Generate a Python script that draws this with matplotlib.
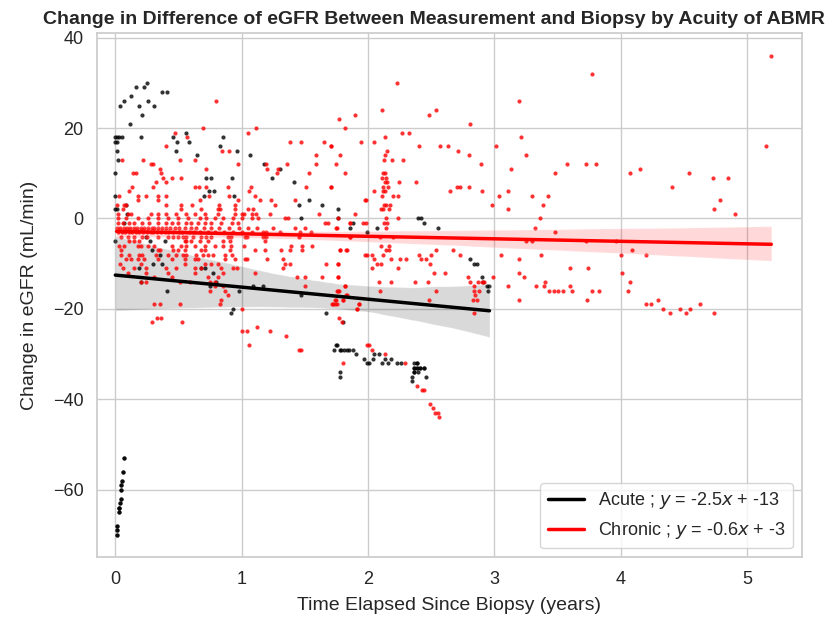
import numpy as np
import matplotlib
matplotlib.use("Agg")
import matplotlib.pyplot as plt
import seaborn as sns
from matplotlib.lines import Line2D

# acute ABMR: (years since biopsy, change in eGFR)
acute_pts = [
    (0.066, -53), (0.058, -56), (0.053, -58), (0.048, -59), (0.045, -60), (0.042, -62),
    (0.04, -63), (0.032, -64), (0.026, -65), (0.01, -68), (0.01, -69), (0.01, -70),
    (0.25, 30), (0.225, 29), (0.16, 29), (0.125, 27), (0.066, 26), (0.04, 25), (0.19, 25),
    (0.26, 26), (0.31, 25), (0.21, 23), (0.37, 28), (0.405, 28), (0.12, 21),
    (0.0, 18), (0.013, 18), (0.03, 18), (0.05, 18), (0.2, 18), (0.0, 17), (0.013, 17),
    (0.485, 17), (0.58, 17), (0.46, 18), (0.56, 19), (0.01, 15), (0.48, 15), (0.024, 13),
    (0.65, 14), (0.0, 10), (0.0, 5), (0.085, 3), (0.0, 2), (0.01, 2), (0.095, 1), (0.07, -1),
    (0.83, 16), (0.85, 18), (0.96, 15), (0.92, 9), (0.94, 5), (0.72, 9), (0.76, 9),
    (0.745, 6), (0.78, 6), (0.705, 5), (1.065, 14), (1.18, 12), (1.24, 9), (1.30, 11),
    (1.41, 8), (1.45, 3), (1.53, 4), (1.635, 3), (1.47, 0), (1.76, 2), (1.76, 0),
    (0.0, -5), (0.24, -4), (0.275, -5), (0.395, -5), (0.29, -7), (0.35, -8), (0.3, -10),
    (0.37, -10), (0.19, -11), (0.2, -14), (0.41, -16), (0.68, -11), (0.71, -11), (0.77, -12),
    (0.8, -14), (0.75, -15), (0.98, -16), (1.09, -15), (1.17, -15), (0.93, -20), (0.915, -21),
    (1.47, -17), (1.67, -21), (1.75, -28), (1.78, -29), (1.81, -29),
    (1.86, -2), (1.88, -1), (2.07, -2), (1.99, -3), (2.395, 0), (2.415, 0), (2.44, -1),
    (2.55, -2), (2.805, -9), (2.835, -10), (2.86, -10), (2.9, -13), (2.91, -14), (2.94, -15),
    (2.96, -15), (2.945, -16), (1.8, -23), (1.745, -28), (1.73, -29), (1.785, -29),
    (1.83, -29), (1.845, -29), (1.88, -29), (1.905, -30), (1.965, -31), (1.99, -32),
    (2.01, -32), (2.04, -31), (2.05, -30), (2.09, -30), (2.13, -31), (2.11, -32), (2.16, -32),
    (2.185, -31), (2.225, -32), (2.26, -32), (2.36, -32), (2.39, -32), (2.36, -33),
    (2.39, -33), (2.41, -33), (2.44, -33), (2.36, -34), (2.395, -34), (2.455, -35),
    (2.35, -35), (2.345, -36), (1.775, -34), (1.775, -35),
]
# repeated measurements that sit on top of dots already listed
acute_stacked = [
    (0.066, -53), (0.058, -56), (0.053, -58), (0.048, -59), (0.045, -60), (0.042, -62),
    (0.04, -63), (0.032, -64), (0.026, -65), (0.01, -68), (0.01, -69), (0.01, -70),
    (0.032, -64), (2.36, -33), (2.39, -32), (2.41, -33), (2.44, -33), (2.36, -34),
    (2.39, -33),
]

# chronic ABMR
chronic_pts = [
    (0.8, 26), (0.69, 20), (0.475, 19), (0.57, 18), (0.4, 16), (0.845, 15), (0.9, 15),
    (0.05, 13), (0.22, 13), (0.51, 13), (0.63, 13), (0.285, 12), (0.3, 12), (0.97, 12),
    (0.35, 11), (0.72, 11), (0.14, 10), (0.165, 10), (0.36, 10), (0.38, 9), (0.45, 9),
    (0.52, 9), (0.32, 8), (0.4, 8), (0.3, 7), (0.13, 7), (0.63, 7), (0.66, 7), (0.72, 7),
    (0.895, 7), (0.11, 6), (0.03, 5), (0.18, 5), (0.245, 5), (0.335, 5), (0.4, 5), (0.74, 5),
    (0.9, 5), (0.18, 4), (0.34, 4), (0.67, 4), (0.97, 4),
    (0.013, 3), (0.066, 3), (0.085, 3), (0.40, 3), (0.52, 3), (0.61, 3), (0.82, 3), (0.95, 3),
    (0.058, 2), (0.68, 2), (0.83, 2), (0.95, 2), (0.52, 2), (0.81, 2),
    (0.024, 1), (0.10, 1), (0.125, 1), (0.28, 1), (0.335, 1), (0.40, 1), (0.48, 1), (0.56, 1),
    (0.63, 1), (0.71, 1), (0.81, 1), (0.945, 1), (1.0, 1),
    (0.02, 0), (0.085, 0), (0.18, 0), (0.26, 0), (0.335, 0), (0.415, 0), (0.495, 0),
    (0.575, 0), (0.67, 0), (0.72, 0), (0.785, 0), (0.855, 0), (0.93, 0), (1.0, 0),
    (0.02, -1), (0.058, -1), (0.11, -1), (0.15, -1), (0.215, -1), (0.27, -1), (0.335, -1),
    (0.40, -1), (0.445, -1), (0.495, -1), (0.56, -1), (0.60, -1), (0.655, -1), (0.71, -1),
    (0.76, -1), (0.84, -1), (0.92, -1), (0.97, -1),
    (0.01, -2), (0.04, -2), (0.07, -2), (0.09, -2), (0.12, -2), (0.15, -2), (0.17, -2),
    (0.2, -2), (0.23, -2), (0.26, -2), (0.29, -2), (0.31, -2), (0.34, -2), (0.37, -2),
    (0.4, -2), (0.43, -2), (0.47, -2), (0.5, -2), (0.55, -2), (0.6, -2), (0.64, -2),
    (0.7, -2), (0.76, -2), (0.82, -2), (0.9, -2), (0.98, -2), (1.05, -2), (1.12, -2), (1.25, -2),
    (0.02, -3), (0.05, -3), (0.08, -3), (0.11, -3), (0.13, -3), (0.16, -3), (0.19, -3),
    (0.22, -3), (0.25, -3), (0.28, -3), (0.3, -3), (0.33, -3), (0.36, -3), (0.39, -3),
    (0.42, -3), (0.46, -3), (0.5, -3), (0.53, -3), (0.58, -3), (0.62, -3), (0.67, -3),
    (0.73, -3), (0.79, -3), (0.86, -3), (0.93, -3), (1.0, -3), (1.08, -3), (1.3, -3), (1.55, -3),
    (0.045, -4), (0.10, -4), (0.145, -4), (0.215, -4), (0.25, -4), (0.335, -4), (0.415, -4),
    (0.455, -4), (0.495, -4), (0.535, -4), (0.56, -4), (0.615, -4), (0.68, -4), (0.72, -4),
    (0.76, -4), (0.89, -4), (0.915, -4),
    (0.11, -5), (0.15, -5), (0.19, -5), (0.55, -5), (0.56, -5), (0.60, -5), (0.67, -5),
    (0.735, -5), (0.855, -5), (0.905, -5),
    (0.03, -6), (0.07, -6), (0.18, -6), (0.205, -6), (0.255, -6), (0.31, -6), (0.445, -6),
    (0.52, -6), (0.56, -6), (0.63, -6), (0.71, -6), (0.785, -6), (0.855, -6), (0.915, -6),
    (0.045, -7), (0.335, -7), (0.35, -7), (0.455, -7), (0.495, -7), (0.55, -7), (0.68, -7),
    (0.71, -7), (0.905, -7),
    (0.045, -8), (0.11, -8), (0.19, -8), (0.215, -8), (0.325, -8), (0.415, -8), (0.48, -8),
    (0.535, -8), (0.56, -8), (0.64, -8), (0.695, -8), (0.735, -8), (0.775, -8), (0.865, -8),
    (0.92, -8),
    (0.085, -9), (0.125, -9), (0.18, -9), (0.23, -9), (0.335, -9), (0.445, -9), (0.55, -9),
    (0.63, -9), (0.655, -9), (0.865, -9), (0.945, -9),
    (0.04, -10), (0.205, -10), (0.55, -10), (0.71, -10), (0.76, -10), (0.81, -10),
    (0.058, -11), (0.15, -11), (0.245, -11), (0.40, -11), (0.48, -11), (0.63, -11),
    (0.68, -11), (0.84, -11), (0.93, -11), (0.96, -11),
    (0.10, -12), (0.245, -12), (0.415, -12), (0.63, -12), (0.855, -12),
    (0.31, -13), (0.445, -13), (0.735, -13), (0.815, -13),
    (0.205, -14), (0.245, -14), (0.51, -14), (0.59, -14), (0.75, -14), (0.785, -14),
    (0.785, -15), (0.855, -15), (0.75, -16), (0.865, -16), (0.89, -17),
    (0.305, -19), (0.35, -19), (0.51, -19), (0.33, -22), (0.36, -22), (0.29, -23), (0.53, -23),
    (0.83, -19), (0.84, -18), (1.0, -20), (1.0, -25),
    (1.04, -25), (1.12, -24), (1.22, -25), (1.35, -26), (1.06, -28), (1.45, -29), (1.47, -29),
    # 1 - 2 years
    (1.05, 19), (1.11, 20), (1.77, 22), (1.82, 20), (1.38, 17), (1.47, 17), (1.65, 17),
    (1.71, 16), (1.59, 14), (1.78, 14), (1.585, 12), (1.745, 12), (1.19, 12), (1.2, 11),
    (1.28, 10), (1.36, 12), (1.29, 11), (1.53, 10), (1.82, 10), (1.07, 7), (1.06, 6),
    (1.105, 5), (1.145, 4), (1.23, 4), (1.26, 3), (1.42, 4), (1.51, 7), (1.71, 7), (1.98, 4),
    (1.015, 1), (1.05, 2), (1.09, 2), (1.085, 1), (1.115, 1), (1.225, 1), (1.34, 0),
    (1.37, 0), (1.61, 1), (1.76, 0), (1.085, 0), (1.125, 0), (1.9, 1),
    (1.66, -1), (1.68, -1), (1.86, -1), (1.98, -1), (1.42, -2), (1.5, -2), (1.75, -2),
    (1.46, -3), (1.17, -3), (1.19, -3), (1.86, -4),
    (1.025, -4), (1.045, -4), (1.17, -4), (1.19, -4), (1.455, -4), (1.185, -5),
    (1.02, -6), (1.39, -6), (1.475, -6), (1.555, -6), (1.105, -7), (1.185, -7), (1.31, -7),
    (1.38, -7), (1.475, -7), (1.775, -7), (1.83, -7), (1.99, -8), (1.025, -9), (1.045, -9),
    (1.2, -9), (1.325, -9), (1.34, -10), (1.385, -10), (1.67, -10), (1.76, -10), (1.325, -11),
    (1.105, -12), (1.435, -13), (1.50, -13), (1.635, -13), (1.76, -13), (1.5, -15),
    (1.815, -15), (1.755, -16), (1.77, -16), (1.83, -17), (1.735, -18), (1.80, -18),
    (1.715, -19), (1.75, -19), (1.93, -19), (1.915, -20), (1.72, -19), (1.74, -19),
    (1.745, -18), (1.8, -18), (1.825, -17), (1.82, -15), (1.765, -16), (1.77, -22),
    (1.79, -23), (1.8, -32),
    # 2 - 3 years
    (2.225, 30), (3.19, 26), (2.11, 24), (1.9, 23), (2.48, 23), (2.535, 24), (2.805, 21),
    (2.265, 19), (2.325, 19), (2.13, 18), (3.21, 18), (1.94, 17), (2.05, 17), (1.705, 16),
    (2.4, 16), (2.57, 16), (2.63, 16), (3.01, 16), (2.15, 15), (2.71, 15), (2.13, 14),
    (2.795, 14), (3.25, 14), (2.895, 12), (2.125, 13), (2.19, 13), (2.28, 13), (3.13, 11),
    (3.575, 12), (2.115, 10), (2.135, 10), (3.48, 10), (2.11, 9), (2.14, 9), (2.245, 8),
    (2.13, 8), (2.15, 8), (2.38, 8), (1.705, 7), (2.12, 7), (2.155, 7), (2.7, 7), (2.73, 7),
    (2.8, 7), (2.05, 6), (2.12, 6), (2.135, 6), (2.65, 6), (2.9, 6), (3.11, 6), (2.11, 5),
    (2.2, 5), (2.24, 5), (3.035, 5), (3.3, 5), (3.42, 5), (1.975, 4), (2.125, 3), (2.145, 3),
    (2.17, 3), (2.98, 3), (3.38, 3), (2.105, 2), (2.12, 2), (2.165, 2), (3.11, 2),
    (2.14, 0), (2.24, 0), (3.36, 0), (1.86, -1), (1.96, -1), (2.125, -1), (2.15, -1),
    (1.745, -2), (2.14, -2), (3.32, -2), (3.48, -3), (1.86, -4), (2.095, -4), (2.2, -4),
    (3.25, -5), (3.3, -5), (2.1, -6), (2.165, -6), (1.78, -7), (1.825, -7), (2.14, -7),
    (2.165, -7), (2.67, -7), (2.54, -7), (1.975, -8), (2.03, -8), (2.115, -8), (2.4, -8),
    (2.5, -8), (2.73, -8), (3.05, -8), (3.37, -8), (2.05, -9), (2.18, -9), (2.255, -9),
    (2.3, -9), (2.42, -9), (2.455, -9), (3.19, -9), (2.07, -10), (2.1, -10), (1.76, -10),
    (2.49, -10), (2.03, -11), (2.24, -11), (2.52, -12), (2.61, -12), (3.19, -12),
    (3.23, -13), (3.595, -11), (1.76, -13), (2.79, -13), (2.81, -14), (2.835, -15),
    (2.87, -14), (2.905, -14), (2.92, -14), (2.985, -13), (2.09, -14), (2.18, -14),
    (2.37, -14), (2.475, -14), (3.11, -15), (3.33, -15), (3.39, -15), (3.4, -14),
    (3.595, -15), (3.43, -16), (3.47, -16), (3.505, -16), (3.545, -16), (3.615, -16),
    (2.095, -16), (2.535, -16), (2.84, -16), (2.88, -16), (2.845, -17), (2.83, -18),
    (2.86, -18), (2.48, -18), (3.19, -18), (1.93, -19), (1.915, -20), (2.835, -21),
    (1.99, -28), (2.005, -28), (2.03, -29), (2.135, -30), (2.29, -32), (2.39, -37),
    (2.43, -38), (2.445, -38), (2.49, -41), (2.51, -42), (2.53, -43), (2.55, -43), (2.56, -44),
    # > 3.5 years
    (3.77, 32), (5.19, 36), (5.15, 16), (3.725, 12), (3.805, 12), (4.075, 10), (4.15, 11),
    (4.535, 10), (4.405, 7), (4.73, 9), (4.845, 9), (4.785, 4), (4.74, 2), (4.9, 1),
    (3.725, -5), (3.96, -5), (4.0, -8), (4.09, -7), (4.195, -8), (3.74, -11), (4.01, -12),
    (4.075, -14), (3.77, -16), (3.83, -16), (4.06, -16), (3.735, -18), (4.195, -19),
    (4.235, -19), (4.29, -18), (4.33, -20), (4.39, -21), (4.47, -20), (4.515, -21),
    (4.545, -20), (4.625, -19), (4.735, -21),
]

legend_labels = ["Acute ; $y$ = -2.5$x$ + -13", "Chronic ; $y$ = -0.6$x$ + -3"]

acute_x, acute_y = np.array(acute_pts + acute_stacked).T
chronic_x, chronic_y = np.array(chronic_pts).T

sns.set_theme(style="whitegrid", font_scale=1.2)
plt.rcParams["font.family"] = ["Liberation Sans", "DejaVu Sans"]

fig, ax = plt.subplots(figsize=(8.35, 6.18), dpi=100)
fig.subplots_adjust(left=0.116, right=0.9605, top=0.947, bottom=0.098)

sns.regplot(x=acute_x, y=acute_y, ax=ax, color="black", seed=0,
            scatter_kws={"s": 9, "linewidths": 0}, line_kws={"lw": 2.5})
sns.regplot(x=chronic_x, y=chronic_y, ax=ax, color="red", seed=0,
            scatter_kws={"s": 9, "linewidths": 0}, line_kws={"lw": 2.5})

ax.set_xlim(-0.146, 5.433)
ax.set_ylim(-75.0, 41.1)
ax.set_title("Change in Difference of eGFR Between Measurement and Biopsy by Acuity of ABMR",
             fontweight="bold", fontsize=14, x=0.478)
ax.set_xlabel("Time Elapsed Since Biopsy (years)", fontsize=14, labelpad=7)
ax.set_ylabel("Change in eGFR (mL/min)", fontsize=14, labelpad=11)
ax.tick_params(labelsize=13)

handles = [Line2D([], [], color="black", lw=2.5), Line2D([], [], color="red", lw=2.5)]
ax.legend(handles, legend_labels, loc="lower right", fontsize=13)

fig.savefig("out.png", dpi=100)
